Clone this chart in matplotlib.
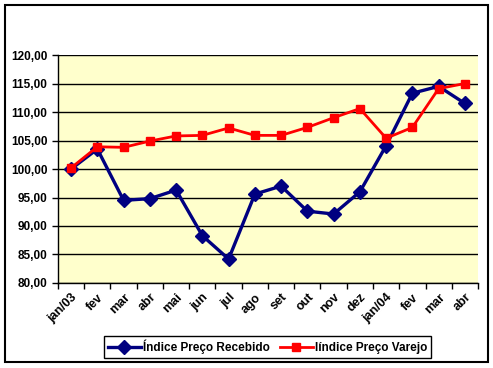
import matplotlib
matplotlib.use('Agg')
import matplotlib.pyplot as plt
import matplotlib.patches as patches
from matplotlib.ticker import FuncFormatter, FixedLocator

plt.rcParams['font.family'] = ['Liberation Sans', 'DejaVu Sans']

meses = ['jan/03', 'fev', 'mar', 'abr', 'mai', 'jun', 'jul', 'ago', 'set',
         'out', 'nov', 'dez', 'jan/04', 'fev', 'mar', 'abr']
recebido = [100.0, 103.5, 94.5, 94.8, 96.3, 88.3, 84.2, 95.6, 97.0,
            92.6, 92.1, 96.0, 104.1, 113.3, 114.5, 111.5]
varejo = [100.2, 103.9, 103.8, 104.9, 105.8, 105.9, 107.2, 105.9, 105.9,
          107.3, 109.0, 110.6, 105.4, 107.3, 114.1, 115.0]

fig = plt.figure(figsize=(4.93, 3.68), dpi=100)
ax = fig.add_axes([0.1176, 0.231, 0.8520, 0.6195])
ax.set_facecolor('#FFFFCC')

x = list(range(len(meses)))
ax.plot(x, recebido, color='#000080', lw=2.4, marker='D', ms=7,
        label='Índice Preço Recebido', zorder=3)
ax.plot(x, varejo, color='#FF0000', lw=2, marker='s', ms=6,
        label='Iíndice Preço Varejo', zorder=4)

ax.set_xlim(-0.5, len(meses) - 0.5)
ax.set_ylim(80, 120)
ax.set_yticks(range(80, 121, 5))
ax.yaxis.set_major_formatter(FuncFormatter(lambda v, p: ('%.2f' % v).replace('.', ',')))
ax.grid(axis='y', color='black', lw=1)
ax.set_axisbelow(True)

ax.xaxis.set_major_locator(FixedLocator([i - 0.5 for i in range(len(meses) + 1)]))
ax.xaxis.set_major_formatter(FuncFormatter(lambda v, p: ''))
ax.xaxis.set_minor_locator(FixedLocator(x))
ax.set_xticklabels(meses, minor=True, rotation=45, ha='right',
                   rotation_mode='anchor', fontsize=9, fontweight='bold')
ax.tick_params(axis='x', which='minor', length=0, pad=6)
ax.tick_params(axis='x', which='major', length=4, width=1, color='black')
ax.tick_params(axis='y', length=4, width=1, labelsize=8.5)
for lab in ax.get_yticklabels():
    lab.set_fontweight('bold')

for s in ['top', 'right']:
    ax.spines[s].set_visible(False)
ax.spines['left'].set_linewidth(1)
ax.spines['bottom'].set_linewidth(1)

leg = fig.legend(loc='center', bbox_to_anchor=(0.543, 0.057), ncol=2,
                 prop={'weight': 'bold', 'size': 8.5}, fancybox=False,
                 edgecolor='black', framealpha=1, handlelength=2.8,
                 handletextpad=0.2, columnspacing=0.8, borderpad=0.3)
leg.get_frame().set_linewidth(1)

fig.patches.append(patches.Rectangle((0.0101, 0.0163), 0.98, 0.970,
                                     transform=fig.transFigure, fill=False,
                                     edgecolor='black', lw=1.5))

fig.savefig('out.png', dpi=100)
